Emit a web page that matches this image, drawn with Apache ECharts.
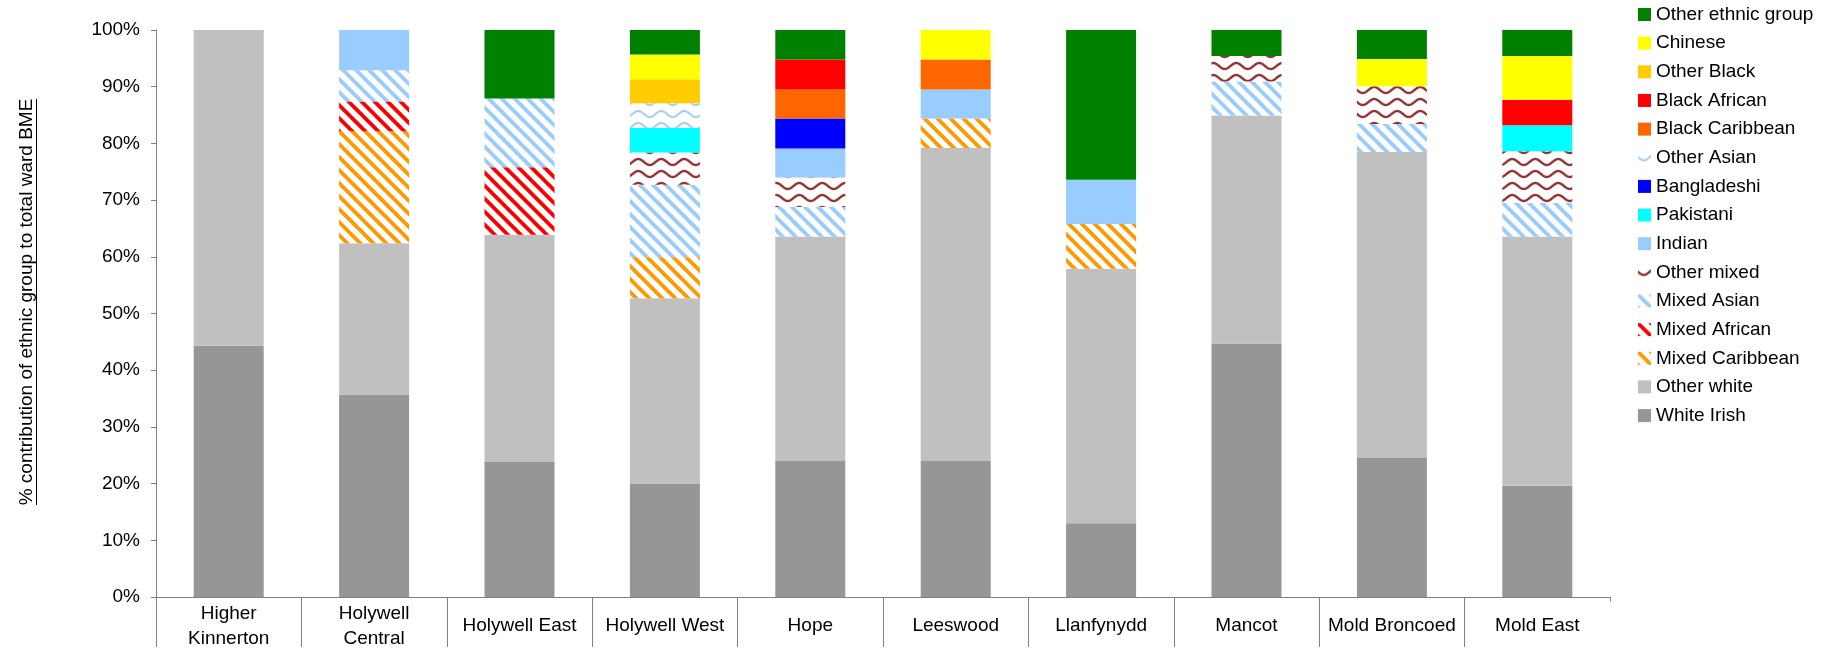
<!DOCTYPE html>
<html><head><meta charset="utf-8">
<script src="https://cdn.jsdelivr.net/npm/echarts/dist/echarts.min.js"></script>
<style>html,body{margin:0;padding:0;background:#fff}#c{width:1842px;height:651px}</style>
</head><body><div id="c"></div>
<script>
const categories = ['Higher Kinnerton','Holywell Central','Holywell East','Holywell West','Hope','Leeswood','Llanfynydd','Mancot','Mold Broncoed','Mold East'];
const whiteIrish      = [44.3, 35.7, 23.8, 20.0, 24.0, 24.0, 13.0, 44.7, 24.5, 19.6];
const otherWhite      = [55.7, 26.7, 40.1, 32.7, 39.6, 55.2, 44.9, 40.2, 54.0, 44.0];
const mixedCaribbean  = [0, 19.8, 0, 7.2, 0, 5.2, 7.9, 0, 0, 0];
const mixedAfrican    = [0, 5.2, 11.9, 0, 0, 0, 0, 0, 0, 0];
const mixedAsian      = [0, 5.5, 12.1, 12.8, 5.2, 0, 0, 6.0, 4.9, 5.9];
const otherMixed      = [0, 0, 0, 5.7, 5.2, 0, 0, 4.5, 6.7, 9.1];
const indian          = [0, 7.1, 0, 0, 5.1, 5.1, 7.8, 0, 0, 0];
const pakistani       = [0, 0, 0, 4.3, 0, 0, 0, 0, 0, 4.6];
const bangladeshi     = [0, 0, 0, 0, 5.3, 0, 0, 0, 0, 0];
const otherAsian      = [0, 0, 0, 4.4, 0, 0, 0, 0, 0, 0];
const blackCaribbean  = [0, 0, 0, 0, 5.1, 5.3, 0, 0, 0, 0];
const blackAfrican    = [0, 0, 0, 0, 5.3, 0, 0, 0, 0, 4.5];
const otherBlack      = [0, 0, 0, 4.2, 0, 0, 0, 0, 0, 0];
const chinese         = [0, 0, 0, 4.4, 0, 5.2, 0, 0, 4.8, 7.7];
const otherEthnic     = [0, 0, 12.1, 4.3, 5.2, 0, 26.4, 4.6, 5.1, 4.6];
const yTicks = [0,10,20,30,40,50,60,70,80,90,100];
const yAxisTitle = '% contribution of ethnic group to total ward BME';

function stripe(color){
  const S = 13, c = document.createElement('canvas'); c.width = S; c.height = S;
  const g = c.getContext('2d'); g.fillStyle = '#fff'; g.fillRect(0,0,S,S);
  g.strokeStyle = color; g.lineWidth = 3.8;
  for (let k=-1;k<=1;k++){ g.beginPath(); g.moveTo(k*S-3,-3); g.lineTo(k*S+S+3,S+3); g.stroke(); }
  return {image: c, repeat: 'repeat'};
}
function wave(color, lw){
  const W = 23, H = 12, c = document.createElement('canvas'); c.width = W; c.height = H;
  const g = c.getContext('2d'); g.fillStyle = '#fff'; g.fillRect(0,0,W,H);
  g.strokeStyle = color; g.lineWidth = lw; g.beginPath();
  for (let x=-1; x<=W+1; x+=0.5){ const y = H/2 + 3*Math.sin(2*Math.PI*x/W); if (x===-1) g.moveTo(x,y); else g.lineTo(x,y); }
  g.stroke();
  return {image: c, repeat: 'repeat'};
}

const seriesDefs = [
  ['White Irish', whiteIrish, '#969696'],
  ['Other white', otherWhite, '#C0C0C0'],
  ['Mixed Caribbean', mixedCaribbean, stripe('#FF9900')],
  ['Mixed African', mixedAfrican, stripe('#FF0000')],
  ['Mixed Asian', mixedAsian, stripe('#99CCFF')],
  ['Other mixed', otherMixed, wave('#993333', 2.4)],
  ['Indian', indian, '#99CCFF'],
  ['Pakistani', pakistani, '#00FFFF'],
  ['Bangladeshi', bangladeshi, '#0000FF'],
  ['Other Asian', otherAsian, wave('#A8D0FF', 2.2)],
  ['Black Caribbean', blackCaribbean, '#FF6600'],
  ['Black African', blackAfrican, '#FF0000'],
  ['Other Black', otherBlack, '#FFCC00'],
  ['Chinese', chinese, '#FFFF00'],
  ['Other ethnic group', otherEthnic, '#008000']
];

const FONT = 'Liberation Sans, Arial, sans-serif';
const chart = echarts.init(document.getElementById('c'), null, {renderer:'canvas'});
chart.setOption({
  animation: false,
  backgroundColor: '#fff',
  textStyle: {fontFamily: FONT, color: '#000'},
  grid: {left: 156, right: 232, top: 30, bottom: 50, containLabel: false},
  legend: {
    orient: 'vertical', left: 1638, top: 5, padding: 0,
    itemWidth: 13, itemHeight: 13, itemGap: 9.65, icon: 'rect',
    textStyle: {fontSize: 19, lineHeight: 19, fontFamily: FONT, color: '#000'},
    data: seriesDefs.map(s => s[0]).reverse()
  },
  xAxis: {
    type: 'category', data: categories,
    axisLine: {lineStyle: {color: '#808080', width: 1}},
    axisTick: {show: true, length: 50, lineStyle: {color: '#808080'}},
    axisLabel: {interval: 0, fontSize: 19, lineHeight: 25, color: '#000', fontFamily: FONT,
      verticalAlign: 'middle', margin: 29,
      formatter: v => v.length > 14 ? v.replace(' ', '\n') : v}
  },
  yAxis: {
    type: 'value', min: yTicks[0], max: yTicks[yTicks.length-1], interval: 10,
    splitLine: {show: false},
    axisLine: {show: true, lineStyle: {color: '#808080', width: 1}},
    axisTick: {show: true, length: 5, lineStyle: {color: '#808080'}},
    axisLabel: {fontSize: 19, color: '#000', margin: 16, fontFamily: FONT, formatter: '{value}%'}
  },
  graphic: [
    {type: 'text', x: 27, y: 302, rotation: Math.PI/2,
      style: {text: yAxisTitle, fontSize: 19, fontFamily: FONT, fill: '#000', align: 'center', verticalAlign: 'middle'}},
    {type: 'line', shape: {x1: 36.5, y1: 99, x2: 36.5, y2: 505}, style: {stroke: '#000', lineWidth: 1}},
    {type: 'rect', shape: {x: 1607.5, y: 601.6, width: 6, height: 50}, style: {fill: '#fff'}, z: 100}
  ],
  series: seriesDefs.map(s => ({
    name: s[0], type: 'bar', stack: 'total', data: s[1], barWidth: 70,
    itemStyle: {color: s[2]}, emphasis: {disabled: true}
  }))
});
</script></body></html>
